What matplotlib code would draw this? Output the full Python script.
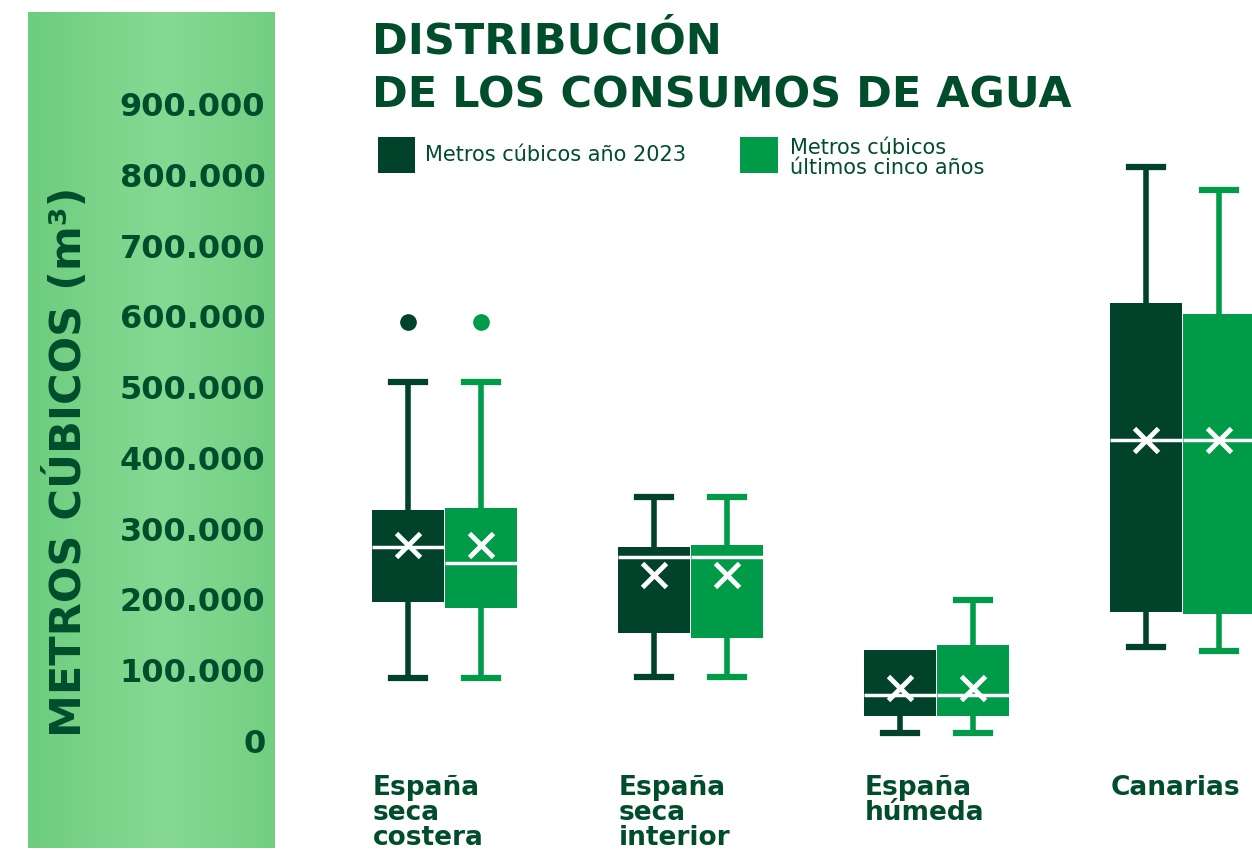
import matplotlib.pyplot as plt
import numpy as np
from matplotlib.patches import Rectangle

# datos
categories = ["España\nseca\ncostera", "España\nseca\ninterior", "España\nhúmeda", "Canarias"]
yticks = [0, 100000, 200000, 300000, 400000, 500000, 600000, 700000, 800000, 900000]

# metros cubicos año 2023
q1_2023 = [197000, 153000, 35000, 182000]
med_2023 = [274000, 260000, 65000, 425000]
q3_2023 = [326000, 274000, 128000, 619000]
lo_2023 = [89000, 90000, 11000, 133000]
hi_2023 = [507000, 345000, 128000, 811000]
mean_2023 = [277000, 234000, 75000, 425000]
out_2023 = [[592000], [], [], []]

# metros cubicos ultimos cinco años
q1_5y = [188000, 145000, 35000, 179000]
med_5y = [251000, 260000, 65000, 425000]
q3_5y = [329000, 277000, 136000, 603000]
lo_5y = [89000, 90000, 11000, 127000]
hi_5y = [507000, 345000, 199000, 778000]
mean_5y = [277000, 234000, 75000, 425000]
out_5y = [[592000], [], [], []]

DARK = "#00432a"
LIGHT = "#009b48"
TEXT = "#004d2c"
W, H = 1252, 856

fig = plt.figure(figsize=(W / 100, H / 100), dpi=100)

# banda verde de la izquierda
band = fig.add_axes([28 / W, (H - 848) / H, 247 / W, 836 / H])
grad = np.linspace(0, 1, 200)
grad = 1 - 0.5 * np.abs(grad - 0.55) * 2
band.imshow(grad[np.newaxis, :], aspect="auto", cmap=plt.matplotlib.colors.LinearSegmentedColormap.from_list(
    "band", ["#6dcd7e", "#86d993"]), extent=[0, 1, 0, 1])
band.axis("off")


def stats(q1, med, q3, lo, hi, mean, out):
    return [dict(q1=a, med=b, q3=c, whislo=d, whishi=e, mean=f, fliers=g)
            for a, b, c, d, e, f, g in zip(q1, med, q3, lo, hi, mean, out)]


ax = fig.add_axes([300 / W, (H - 741) / H, (1252 - 300) / W, (741 - 104) / H])
ax.set_ylim(0, 900000)
ax.set_xlim((300 - 444) / 246, (1252 - 444) / 246)

pos = np.arange(len(categories))
bw = 72 / 246
for st, offs, col in [(stats(q1_2023, med_2023, q3_2023, lo_2023, hi_2023, mean_2023, out_2023), -bw / 2, DARK),
                      (stats(q1_5y, med_5y, q3_5y, lo_5y, hi_5y, mean_5y, out_5y), bw / 2 + 0.004, LIGHT)]:
    res = ax.bxp(st, positions=pos + offs, widths=bw, patch_artist=True, showmeans=True,
                 boxprops=dict(facecolor=col, edgecolor=col, linewidth=0, zorder=3),
                 whiskerprops=dict(color=col, linewidth=4, zorder=2),
                 capprops=dict(color=col, linewidth=4.5, zorder=2),
                 capwidths=34 / 246,
                 medianprops=dict(color="white", linewidth=2.5, zorder=4),
                 meanprops=dict(marker="x", markeredgecolor="white", markersize=17, markeredgewidth=3.5, zorder=5),
                 flierprops=dict(marker="o", markerfacecolor=col, markeredgecolor=col, markersize=11))
    # sin bigote superior cuando coincide con el tercer cuartil
    for i, s in enumerate(st):
        if s["whishi"] <= s["q3"]:
            res["caps"][2 * i + 1].set_visible(False)

ax.set_xticks([])
ax.set_yticks(yticks)
ax.set_yticklabels([f"{v:,}".replace(",", ".") for v in yticks], fontsize=23,
                   fontweight="bold", color=TEXT)
ax.tick_params(axis="y", length=0, pad=25)
for s in ax.spines.values():
    s.set_visible(False)
ax.patch.set_alpha(0)

fig.text(68 / W, 1 - 462 / H, "METROS CÚBICOS (m³)", rotation=90, ha="center", va="center",
         fontsize=31, fontweight="bold", color=TEXT)

# titulo
fig.text(372 / W, 1 - 54 / H, "DISTRIBUCIÓN", fontsize=31, fontweight="bold", color=TEXT, va="baseline")
fig.text(372 / W, 1 - 108 / H, "DE LOS CONSUMOS DE AGUA", fontsize=31, fontweight="bold", color=TEXT,
         va="baseline")

# leyenda
fig.patches.append(Rectangle((378 / W, 1 - 173 / H), 37 / W, 36 / H, transform=fig.transFigure,
                             facecolor=DARK, edgecolor="none"))
fig.patches.append(Rectangle((740 / W, 1 - 173 / H), 38 / W, 36 / H, transform=fig.transFigure,
                             facecolor=LIGHT, edgecolor="none"))
fig.text(425 / W, 1 - 155 / H, "Metros cúbicos año 2023", fontsize=15, color=TEXT, va="center")
fig.text(790 / W, 1 - 158 / H, "Metros cúbicos\núltimos cinco años", fontsize=15, color=TEXT,
         va="center", linespacing=1.0)

# etiquetas de categoria
for i, cat in enumerate(categories):
    fig.text((373 + 246 * i) / W, 1 - 775 / H, cat, fontsize=19, fontweight="bold", color=TEXT,
             va="top", ha="left", linespacing=0.95)

fig.savefig("out.png", dpi=100)
